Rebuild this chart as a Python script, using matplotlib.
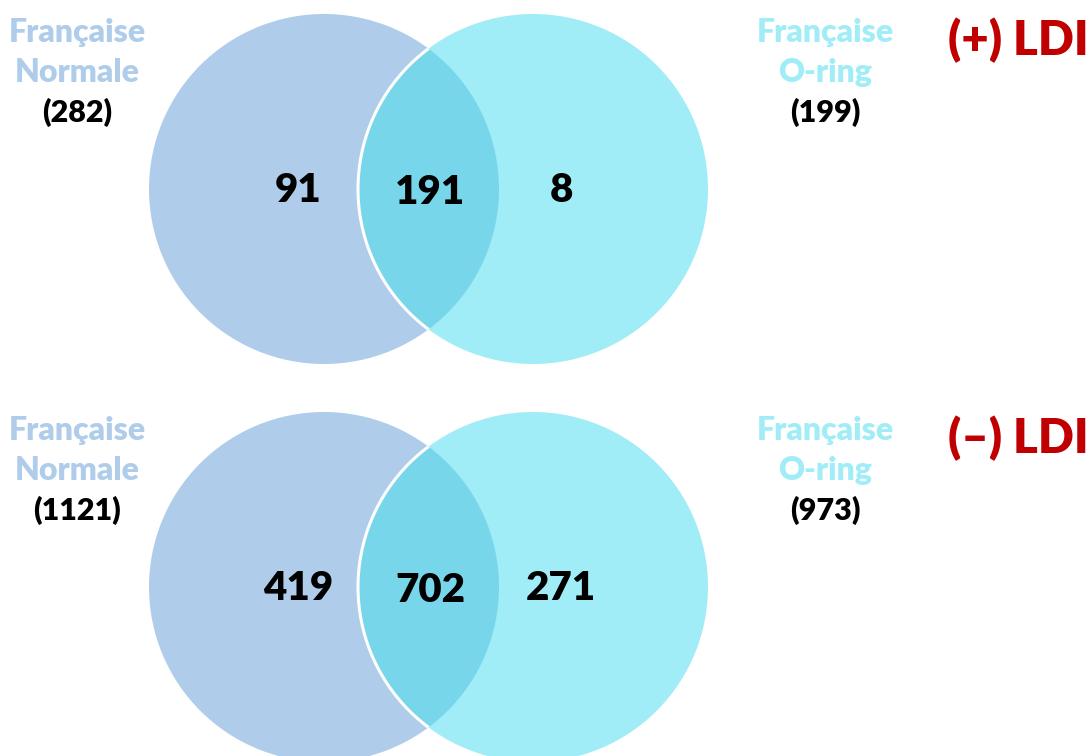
import matplotlib
matplotlib.use("Agg")
import matplotlib.pyplot as plt
from matplotlib.patches import Circle

# Venn counts (top: (+) LDI, bottom: (-) LDI)
panels = ["(+) LDI", "(\u2013) LDI"]
normale_only = [91, 419]
shared = [191, 702]
oring_only = [8, 271]
normale_total = [n + s for n, s in zip(normale_only, shared)]
oring_total = [o + s for o, s in zip(oring_only, shared)]
set_names = [["Fran\u00e7aise", "Normale"], ["Fran\u00e7aise", "O-ring"]]

c_left = "#AFCDEA"
c_right = "#A0EDF7"
c_mid = "#78D6EB"
c_red = "#C00000"

plt.rcParams["font.family"] = ["Lato", "DejaVu Sans"]
wt = "heavy"

fig = plt.figure(figsize=(10.89, 7.56), dpi=100)
ax = fig.add_axes([0, 0, 1, 1])
ax.set_xlim(0, 1089)
ax.set_ylim(756, 0)
ax.set_aspect("equal")
ax.axis("off")

r = 175
xl, xr = 324, 533
row_y = [189, 587]

for i, cy in enumerate(row_y):
    left = Circle((xl, cy), r, facecolor=c_left, edgecolor="none", zorder=1)
    ax.add_patch(left)
    right = Circle((xr, cy), r, facecolor=c_right, edgecolor="none", zorder=2)
    ax.add_patch(right)
    # overlap: right circle re-drawn in darker tone, clipped to left circle
    mid = Circle((xr, cy), r, facecolor=c_mid, edgecolor="none", zorder=3)
    ax.add_patch(mid)
    mid.set_clip_path(left)
    # white outline of the right circle, visible over the left one
    edge = Circle((xr, cy), r, facecolor="none", edgecolor="white", lw=2.2, zorder=4)
    ax.add_patch(edge)
    edge.set_clip_path(left)

    # counts inside the regions
    kw = dict(ha="center", va="baseline", fontsize=29, fontweight=wt,
              color="black", zorder=5)
    ax.text(298, cy + 13, str(normale_only[i]), **kw)
    ax.text(430, cy + 15, str(shared[i]), **kw)
    ax.text(561, cy + 13, str(oring_only[i]), **kw)

    # set labels
    for x, names, col, tot in [(77, set_names[0], c_left, normale_total[i]),
                               (825, set_names[1], c_right, oring_total[i])]:
        ax.text(x, cy - 147, names[0], ha="center", va="baseline", fontsize=23,
                fontweight=wt, color=col)
        ax.text(x, cy - 107, names[1], ha="center", va="baseline", fontsize=23,
                fontweight=wt, color=col)
        ax.text(x, cy - 67, "(%d)" % tot, ha="center", va="baseline",
                fontsize=22, fontweight=wt, color="black")

    ax.text(1089, cy - 134, panels[i], ha="right", va="baseline", fontsize=34,
            fontweight=wt, color=c_red)

fig.savefig("out.png", dpi=100)
